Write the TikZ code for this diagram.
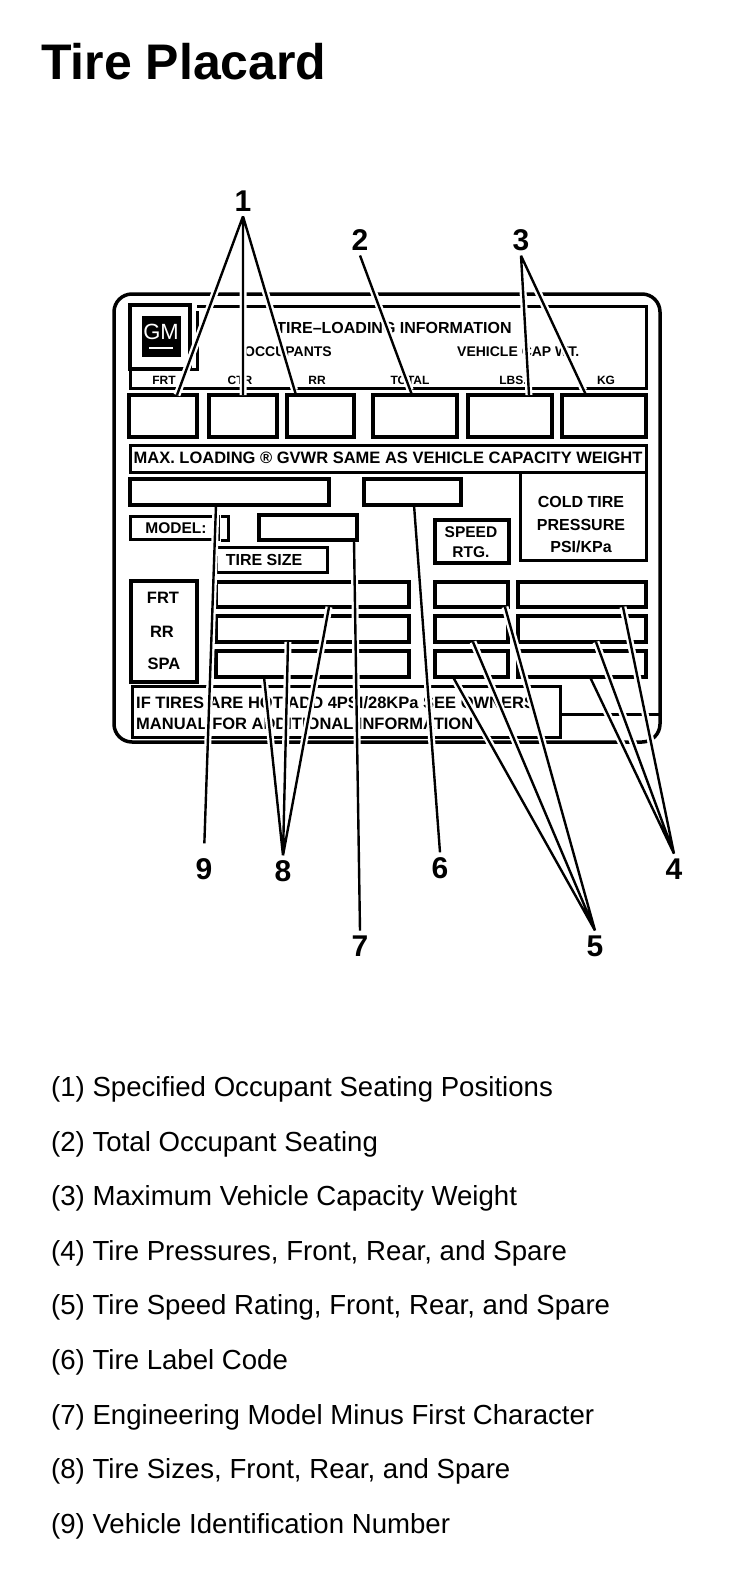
\documentclass[tikz,border=0pt]{standalone}
\usepackage{fontspec}
\setmainfont{Liberation Sans}

\begin{document}
\begin{tikzpicture}[x=1bp,y=-1bp,
		plate/.style={line width=3.5bp, rounded corners=18bp},
		heavy/.style={line width=4.5bp},
		light/.style={line width=3bp},
		halo/.style={white, line width=7bp, shorten >=5bp},
		lead/.style={black, line width=2.4bp},
		num/.style={font=\bfseries\fontsize{30bp}{32bp}\selectfont, inner sep=0pt, outer sep=5bp},
		txt/.style={font=\bfseries\fontsize{16bp}{18bp}\selectfont, inner sep=0pt},
		tag/.style={font=\bfseries\fontsize{12bp}{14bp}\selectfont, inner sep=0pt},
		entry/.style={font=\fontsize{27.6bp}{30bp}\selectfont, inner sep=0pt, anchor=base west}]
		\useasboundingbox (0,0) rectangle (752,1580);
		
		\node[anchor=base west, inner sep=0pt, font=\bfseries\fontsize{50bp}{56bp}\selectfont] (title) at (41,80) {Tire Placard};
		
		% placard
		\draw[plate] (114,294) rectangle (660,742);
		
		% logo and header
		\draw[heavy] (130,305) rectangle (190,369);
		\fill[black] (142,316) rectangle (181,357);
		\node[text=white, inner sep=0pt, font=\fontsize{22bp}{22bp}\selectfont] (gm) at (161,332) {GM};
		\draw[white, line width=2bp] (149,348) -- (173,348);
		\draw[light] (192,369) -- (197,369) -- (197,311);
		\draw[light] (197,306) -- (646,306) -- (646,388) -- (130,388) -- (130,369);
		\node[txt] (head) at (394,328) {TIRE–LOADING INFORMATION};
		\node[tag, font=\bfseries\fontsize{14bp}{16bp}\selectfont, anchor=west] (occ) at (244,352) {OCCUPANTS};
		\node[tag, font=\bfseries\fontsize{14bp}{16bp}\selectfont, anchor=west] (cap) at (457,352) {VEHICLE CAP WT.};
		\node[tag] (lfrt) at (164,380) {FRT};
		\node[tag] (lctr) at (240,380) {CTR};
		\node[tag] (lrr) at (317,380) {RR};
		\node[tag] (ltot) at (410,380) {TOTAL};
		\node[tag] (llbs) at (513,380) {LBS.};
		\node[tag] (lkg) at (606,380) {KG};
		
		% seating and weight boxes
		\draw[heavy] (129,395) rectangle (197,437);
		\draw[heavy] (209,395) rectangle (277,437);
		\draw[heavy] (287,395) rectangle (354,437);
		\draw[heavy] (373,395) rectangle (457,437);
		\draw[heavy] (468,395) rectangle (552,437);
		\draw[heavy] (562,395) rectangle (646,437);
		
		\draw[light] (130,445) rectangle (646,472);
		\node[txt, font=\bfseries\fontsize{16.5bp}{18bp}\selectfont] (max) at (388,458) {MAX. LOADING ® GVWR SAME AS VEHICLE CAPACITY WEIGHT};
		
		\draw[heavy] (130,479) rectangle (329,505);
		\draw[heavy] (364,479) rectangle (461,505);
		\draw[light] (520,472) -- (520,560) -- (646,560) -- (646,472);
		\node[txt] (cold) at (581,502) {COLD TIRE};
		\node[txt] (press) at (581,525) {PRESSURE};
		\node[txt] (psi) at (581,547) {PSI/KPa};
		
		\draw[light] (130,516) rectangle (218,539);
		\node[txt, font=\bfseries\fontsize{15.5bp}{18bp}\selectfont] (model) at (176,528) {MODEL:};
		\draw[light] (221,516) -- (228,516) -- (228,540) -- (221,540);
		\draw[heavy] (259,515) rectangle (357,540);
		\draw[light] (216,547) rectangle (327,572);
		\node[txt] (size) at (264,560) {TIRE SIZE};
		\draw[heavy] (435,520) rectangle (509,563);
		\node[txt, font=\bfseries\fontsize{15.5bp}{18bp}\selectfont] (speed) at (471,532) {SPEED};
		\node[txt, font=\bfseries\fontsize{15.5bp}{18bp}\selectfont] (rtg) at (471,552) {RTG.};
		
		% tire rows
		\draw[heavy] (131,581) rectangle (197,682);
		\node[txt, font=\bfseries\fontsize{16.5bp}{18bp}\selectfont] (rfrt) at (163,598) {FRT};
		\node[txt, font=\bfseries\fontsize{16.5bp}{18bp}\selectfont] (rrr) at (162,632) {RR};
		\node[txt, font=\bfseries\fontsize{16.5bp}{18bp}\selectfont] (rspa) at (164,664) {SPA};
		\draw[heavy] (216,582) rectangle (409,607);
		\draw[heavy] (216,616) rectangle (409,642);
		\draw[heavy] (216,651) rectangle (409,677);
		\draw[heavy] (435,582) rectangle (508,607);
		\draw[heavy] (435,616) rectangle (508,642);
		\draw[heavy] (435,651) rectangle (508,677);
		\draw[heavy] (518,582) rectangle (646,607);
		\draw[heavy] (518,616) rectangle (646,642);
		\draw[heavy] (518,651) rectangle (646,677);
		
		\draw[light] (132,686) rectangle (560,737);
		\draw[light] (560,714) -- (660,714);
		\node[txt, font=\bfseries\fontsize{16.5bp}{18bp}\selectfont, anchor=base west] (hot) at (136,708) {IF TIRES ARE HOT ADD 4PSI/28KPa SEE OWNERS};
		\node[txt, font=\bfseries\fontsize{16.5bp}{18bp}\selectfont, anchor=base west] (man) at (136,729) {MANUAL FOR ADDITIONAL INFORMATION};
		
		% callout numbers
		\node[num] (n1) at (243,201) {1};
		\node[num] (n2) at (360,240) {2};
		\node[num] (n3) at (521,240) {3};
		\node[num] (n9) at (204,869) {9};
		\node[num] (n8) at (283,871) {8};
		\node[num] (n6) at (440,868) {6};
		\node[num] (n4) at (674,869) {4};
		\node[num] (n7) at (360,946) {7};
		\node[num] (n5) at (595,946) {5};
		
		\coordinate (t1a) at (177,395);
		\coordinate (t1b) at (243,395);
		\coordinate (t1c) at (296,395);
		\coordinate (t2) at (412,395);
		\coordinate (t3a) at (529,395);
		\coordinate (t3b) at (586,395);
		\coordinate (t9) at (216,505);
		\coordinate (t6) at (414,505);
		\coordinate (t7) at (354,540);
		\coordinate (t8a) at (329,607);
		\coordinate (t8b) at (288,642);
		\coordinate (t8c) at (264,677);
		\coordinate (t5a) at (505,607);
		\coordinate (t5b) at (473,642);
		\coordinate (t5c) at (453,677);
		\coordinate (t4a) at (623,607);
		\coordinate (t4b) at (596,642);
		\coordinate (t4c) at (590,677);
		
		% white gaps under the leaders
		\draw[halo] (n1.south) -- (t1a) (n1.south) -- (t1b) (n1.south) -- (t1c);
		\draw[halo] (n2.south) -- (t2);
		\draw[halo] (n3.south) -- (t3a) (n3.south) -- (t3b);
		\draw[halo, shorten <=10bp] (n9.north) -- (t9);
		\draw[halo] (n8.north) -- (t8a) (n8.north) -- (t8b) (n8.north) -- (t8c);
		\draw[halo] (n7.north) -- (t7);
		\draw[halo] (n6.north) -- (t6);
		\draw[halo] (n5.north) -- (t5a) (n5.north) -- (t5b) (n5.north) -- (t5c);
		\draw[halo] (n4.north) -- (t4a) (n4.north) -- (t4b) (n4.north) -- (t4c);
		
		% leaders
		\draw[lead] (n1.south) -- (t1a) (n1.south) -- (t1b) (n1.south) -- (t1c);
		\draw[lead] (n2.south) -- (t2);
		\draw[lead] (n3.south) -- (t3a) (n3.south) -- (t3b);
		\draw[lead, shorten <=10bp] (n9.north) -- (t9);
		\draw[lead] (n8.north) -- (t8a) (n8.north) -- (t8b) (n8.north) -- (t8c);
		\draw[lead] (n7.north) -- (t7);
		\draw[lead] (n6.north) -- (t6);
		\draw[lead] (n5.north) -- (t5a) (n5.north) -- (t5b) (n5.north) -- (t5c);
		\draw[lead] (n4.north) -- (t4a) (n4.north) -- (t4b) (n4.north) -- (t4c);
		
		% legend
		\node[entry] (e1) at (51,1096) {(1) Specified Occupant Seating Positions};
		\node[entry] (e2) at (51,1151) {(2) Total Occupant Seating};
		\node[entry] (e3) at (51,1205) {(3) Maximum Vehicle Capacity Weight};
		\node[entry] (e4) at (51,1260) {(4) Tire Pressures, Front, Rear, and Spare};
		\node[entry] (e5) at (51,1314) {(5) Tire Speed Rating, Front, Rear, and Spare};
		\node[entry] (e6) at (51,1369) {(6) Tire Label Code};
		\node[entry] (e7) at (51,1424) {(7) Engineering Model Minus First Character};
		\node[entry] (e8) at (51,1478) {(8) Tire Sizes, Front, Rear, and Spare};
		\node[entry] (e9) at (51,1533) {(9) Vehicle Identification Number};
	\end{tikzpicture}
\end{document}
